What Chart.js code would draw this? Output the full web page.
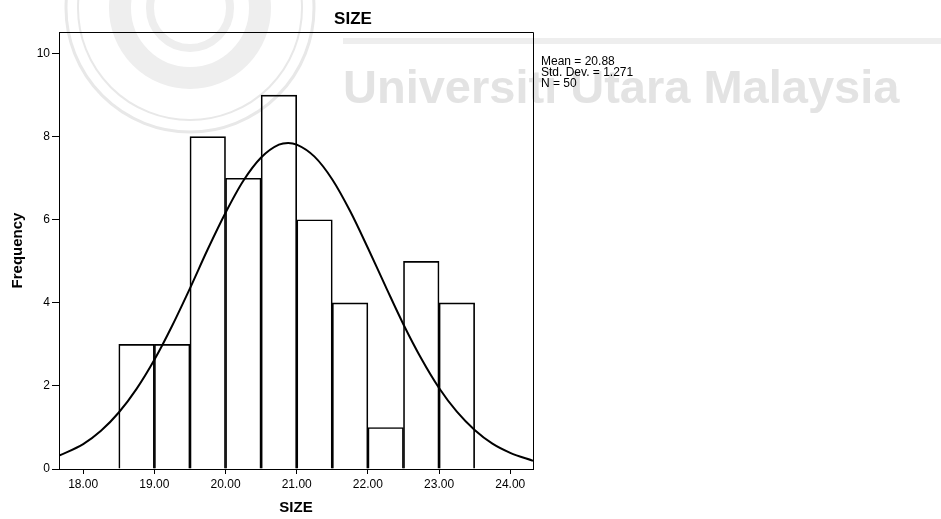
<!DOCTYPE html>
<html><head><meta charset="utf-8">
<script src="https://cdn.jsdelivr.net/npm/chart.js@4/dist/chart.umd.min.js"></script>
<style>html,body{margin:0;padding:0;background:#fff;}canvas{display:block}</style>
</head><body>
<canvas id="c" width="941" height="519"></canvas>
<script>
// ---- data ----
const binCenters = [18.75, 19.25, 19.75, 20.25, 20.75, 21.25, 21.75, 22.25, 22.75, 23.25];
const frequencies = [3, 3, 8, 7, 9, 6, 4, 1, 5, 4];
const curveX = [17.66, 18.0, 18.25, 18.5, 18.75, 19.0, 19.25, 19.5, 19.75, 20.0, 20.25, 20.5, 20.75, 20.88,
                21.0, 21.25, 21.5, 21.75, 22.0, 22.25, 22.5, 22.75, 23.0, 23.25, 23.5, 23.75, 24.0, 24.32];
const curveY = [0.32, 0.60, 0.92, 1.36, 1.93, 2.63, 3.45, 4.35, 5.29, 6.17, 6.94, 7.50, 7.81, 7.85,
                7.81, 7.52, 6.97, 6.21, 5.32, 4.39, 3.48, 2.66, 1.95, 1.38, 0.94, 0.61, 0.39, 0.20];
const xTicks = [18, 19, 20, 21, 22, 23, 24];
const xTickLabels = ['18.00', '19.00', '20.00', '21.00', '22.00', '23.00', '24.00'];
const yTicks = [0, 2, 4, 6, 8, 10];
const yTickLabels = ['0', '2', '4', '6', '8', '10'];
const statsLines = ['Mean = 20.88', 'Std. Dev. = 1.271', 'N = 50'];
const chartTitle = 'SIZE';
const xTitle = 'SIZE';
const yTitle = 'Frequency';
const watermarkText = 'Universiti Utara Malaysia';

const FONT = '"Liberation Sans", Arial, Helvetica, sans-serif';

const backgroundPlugin = {
  id: 'bg',
  beforeDraw(chart) {
    const ctx = chart.ctx;
    ctx.save();
    ctx.fillStyle = '#fff';
    ctx.fillRect(0, 0, chart.width, chart.height);
    // faint watermark
    ctx.strokeStyle = '#e8e8e8';
    ctx.lineWidth = 3;
    ctx.beginPath(); ctx.arc(190, 8, 124, 0, Math.PI * 2); ctx.stroke();
    ctx.lineWidth = 2;
    ctx.beginPath(); ctx.arc(190, 8, 112, 0, Math.PI * 2); ctx.stroke();
    ctx.strokeStyle = '#eeeeee';
    ctx.lineWidth = 22;
    ctx.beginPath(); ctx.arc(190, 8, 70, 0, Math.PI * 2); ctx.stroke();
    ctx.lineWidth = 8;
    ctx.beginPath(); ctx.arc(190, 8, 40, 0, Math.PI * 2); ctx.stroke();
    ctx.fillStyle = '#eeeeee';
    ctx.fillRect(343, 38, 598, 6);
    ctx.fillStyle = '#e3e3e3';
    ctx.font = 'bold 47px ' + FONT;
    ctx.textBaseline = 'alphabetic';
    ctx.textAlign = 'left';
    ctx.fillText(watermarkText, 343, 103, 590);
    ctx.restore();
  },
  afterDraw(chart) {
    const ctx = chart.ctx;
    const a = chart.chartArea;
    ctx.save();
    ctx.strokeStyle = '#000';
    ctx.lineWidth = 1;
    ctx.beginPath();
    ctx.moveTo(Math.round(a.left) + 0.5, Math.round(a.top) + 0.5);
    ctx.lineTo(Math.round(a.right) + 0.5, Math.round(a.top) + 0.5);
    ctx.lineTo(Math.round(a.right) + 0.5, Math.round(a.bottom) + 0.5);
    ctx.stroke();
    ctx.fillStyle = '#000';
    ctx.font = 'bold 17px ' + FONT;
    ctx.textAlign = 'center';
    ctx.textBaseline = 'middle';
    ctx.fillText(chartTitle, 353, 19);
    ctx.font = '12px ' + FONT;
    ctx.textAlign = 'left';
    statsLines.forEach((t, i) => ctx.fillText(t, a.right + 8, 62 + i * 10.7));
    ctx.restore();
  }
};

new Chart(document.getElementById('c'), {
  data: {
    datasets: [
      {
        type: 'line',
        data: curveX.map((x, i) => ({ x, y: curveY[i] })),
        borderColor: '#000',
        borderWidth: 2,
        pointRadius: 0,
        cubicInterpolationMode: 'monotone',
        fill: false,
        order: 0
      },
      {
        type: 'bar',
        data: binCenters.map((x, i) => ({ x, y: frequencies[i] })),
        backgroundColor: 'rgba(255,255,255,0)',
        borderColor: '#000',
        borderWidth: 1,
        categoryPercentage: 1,
        barPercentage: 1,
        order: 1
      }
    ]
  },
  options: {
    responsive: false,
    animation: false,
    devicePixelRatio: 1,
    layout: { padding: { left: 0, right: 408, top: 32, bottom: 0 } },
    plugins: { legend: { display: false }, tooltip: { enabled: false }, title: { display: false } },
    scales: {
      x: {
        type: 'linear',
        offset: false,
        min: 17.66,
        max: 24.32,
        afterBuildTicks(s) { s.ticks = xTicks.map(v => ({ value: v })); },
        afterFit(s) { s.height = 50; },
        ticks: {
          color: '#000',
          font: { family: FONT, size: 12 },
          padding: 3,
          maxRotation: 0,
          autoSkip: false,
          callback: (v) => xTickLabels[xTicks.indexOf(v)]
        },
        grid: { display: true, offset: false, drawOnChartArea: false, drawTicks: true, tickLength: 5, color: '#000', lineWidth: 1 },
        border: { display: true, color: '#000', width: 1 },
        title: { display: true, text: xTitle, color: '#000', font: { family: FONT, size: 15, weight: 'bold' }, padding: { top: 0, bottom: 2 } }
      },
      y: {
        type: 'linear',
        min: 0,
        max: 10.52,
        afterBuildTicks(s) { s.ticks = yTicks.map(v => ({ value: v })); },
        afterFit(s) { s.width = 59; },
        ticks: {
          color: '#000',
          font: { family: FONT, size: 12 },
          padding: 2,
          autoSkip: false,
          callback: (v) => yTickLabels[yTicks.indexOf(v)]
        },
        grid: { display: true, drawOnChartArea: false, drawTicks: true, tickLength: 7, color: '#000', lineWidth: 1 },
        border: { display: true, color: '#000', width: 1 },
        title: { display: true, text: yTitle, color: '#000', font: { family: FONT, size: 15, weight: 'bold' }, padding: { top: 9, bottom: 0 } }
      }
    }
  },
  plugins: [backgroundPlugin]
});
</script>
</body></html>
